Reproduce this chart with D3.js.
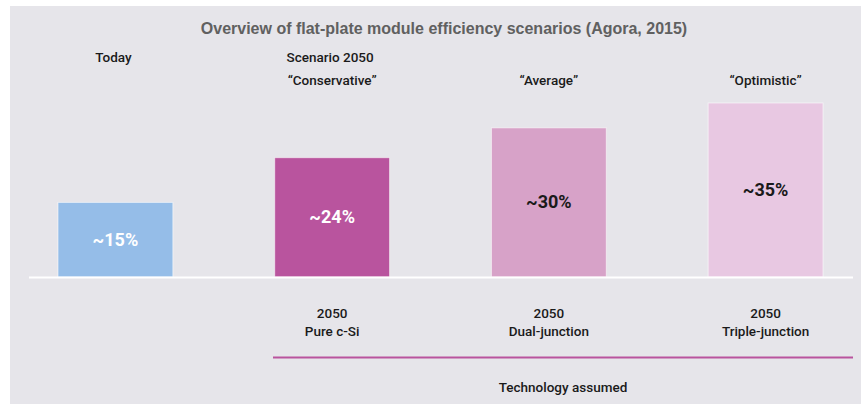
<!DOCTYPE html>
<html lang="en">
<head>
<meta charset="utf-8">
<script src="https://cdn.jsdelivr.net/npm/d3@7"></script>
<style>
  body { margin: 0; background: #fff; }
  svg { display: block; }
  .lab { font-family: Roboto, "Liberation Sans", sans-serif; font-size: 13.5px; font-weight: 500; fill: #1a1a1a; }
</style>
</head>
<body>
<svg id="chart"></svg>
<script>
var width = 861, height = 404;

// data
var categories = ["Today", "Conservative", "Average", "Optimistic"];
var values = [15, 24, 30, 35];
var valueLabels = ["~15%", "~24%", "~30%", "~35%"];
var headTop = ["Today", "Scenario 2050", "", ""];
var headBottom = ["", "\u201cConservative\u201d", "\u201cAverage\u201d", "\u201cOptimistic\u201d"];
var techYear = ["", "2050", "2050", "2050"];
var techName = ["", "Pure c-Si", "Dual-junction", "Triple-junction"];
var barColors = ["#95bde8", "#b9549e", "#d7a2c8", "#e8c8e2"];
var labelColors = ["#ffffff", "#ffffff", "#1a1a1a", "#1a1a1a"];

var svg = d3.select("#chart").attr("width", width).attr("height", height);

// grey panel
svg.append("rect").attr("x", 10).attr("y", 6)
  .attr("width", width - 10).attr("height", height - 6)
  .attr("fill", "#e6e5ea");

var baseY = 277;

var x = d3.scaleBand()
  .domain(categories)
  .range([58, 823])
  .paddingInner(0.47)
  .paddingOuter(0);

var y = d3.scaleLinear()
  .domain([0, 35])
  .range([baseY, 103]);

// title
svg.append("text")
  .attr("x", 444).attr("y", 34)
  .attr("text-anchor", "middle")
  .attr("font-family", "Arial, 'Liberation Sans', sans-serif")
  .attr("font-size", "16px").attr("font-weight", "bold")
  .attr("fill", "#606060")
  .text("Overview of flat-plate module efficiency scenarios (Agora, 2015)");

// bars
svg.selectAll("rect.bar").data(values).enter()
  .append("rect").attr("class", "bar")
  .attr("x", function(d, i) { return x(categories[i]); })
  .attr("y", function(d) { return y(d); })
  .attr("width", x.bandwidth())
  .attr("height", function(d) { return baseY - y(d); })
  .attr("fill", function(d, i) { return barColors[i]; })
  .attr("stroke", "rgba(255,255,255,0.55)")
  .attr("stroke-width", 1);

// baseline
svg.append("line")
  .attr("x1", 29).attr("x2", 853)
  .attr("y1", baseY + 0.5).attr("y2", baseY + 0.5)
  .attr("stroke", "#ffffff").attr("stroke-width", 2);

// value labels in middle of bars
svg.selectAll("text.val").data(values).enter()
  .append("text").attr("class", "val")
  .attr("x", function(d, i) { return x(categories[i]) + x.bandwidth() / 2; })
  .attr("y", function(d) { return (y(d) + baseY) / 2 + 6; })
  .attr("text-anchor", "middle")
  .attr("font-family", "Roboto, 'Liberation Sans', sans-serif")
  .attr("font-size", "18px").attr("font-weight", "bold")
  .attr("fill", function(d, i) { return labelColors[i]; })
  .text(function(d, i) { return valueLabels[i]; });

// headers
var cx = function(i) { return x(categories[i]) + x.bandwidth() / 2; };
categories.forEach(function(c, i) {
  if (headTop[i]) svg.append("text").attr("class", "lab")
    .attr("x", cx(i) - 2).attr("y", 62).attr("text-anchor", "middle").text(headTop[i]);
  if (headBottom[i]) svg.append("text").attr("class", "lab")
    .attr("x", cx(i)).attr("y", 85).attr("text-anchor", "middle").text(headBottom[i]);
  if (techYear[i]) svg.append("text").attr("class", "lab")
    .attr("x", cx(i)).attr("y", 318).attr("text-anchor", "middle").text(techYear[i]);
  if (techName[i]) svg.append("text").attr("class", "lab")
    .attr("x", cx(i)).attr("y", 336).attr("text-anchor", "middle").text(techName[i]);
});

// technology bracket line
svg.append("line")
  .attr("x1", 273).attr("x2", 853)
  .attr("y1", 357.5).attr("y2", 357.5)
  .attr("stroke", "#b9549e").attr("stroke-width", 2);

svg.append("text").attr("class", "lab")
  .attr("x", 563).attr("y", 392).attr("text-anchor", "middle")
  .text("Technology assumed");
</script>
</body>
</html>
